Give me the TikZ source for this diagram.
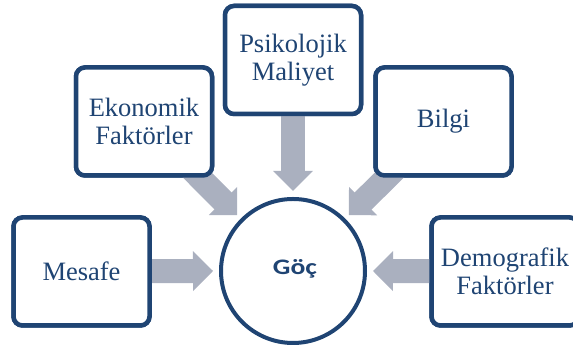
\documentclass[tikz,border=0pt]{standalone}
\usepackage{fontspec}
\usepackage{graphicx}
\setmainfont{Liberation Serif}
\newfontfamily\gocfont{Carlito}
\usetikzlibrary{calc}
\definecolor{dblue}{RGB}{31,68,115}
\definecolor{agray}{RGB}{170,176,191}
\newcommand\blockarrow[2]{%
  \path ($(#2)!19pt!(#1.center)$) coordinate (tmpbase)
        ($(#2)!20pt!(#1.center)$) coordinate (tmphead);
  \draw[arrowshaft] (#1.center) -- (tmpbase);
  \fill[agray] (#2) -- ($(tmphead)!20pt!90:(#2)$) -- ($(tmphead)!20pt!-90:(#2)$) -- cycle;}
\newcommand\boxtext{\fontsize{26.5}{28.5}\selectfont}
\begin{document}
\begin{tikzpicture}[x=1pt,y=1pt,
  box/.style={draw=dblue, fill=white, line width=4.5pt, rounded corners=9pt,
    minimum width=136pt, minimum height=108pt, inner sep=0pt, align=center,
    text=dblue, font=\boxtext},
  hub/.style={circle, draw=dblue, fill=white, line width=4pt, minimum size=144pt,
    inner sep=0pt, text=dblue},
  arrowshaft/.style={draw=agray, line width=24pt}]
\useasboundingbox (0,0) rectangle (573,352);
\node[hub] (goc) at (293,81) {};
\node[box] (mes) at (81.5,80.5) {};
\node[box] (eko) at (144,230.5) {};
\node[box] (psi) at (293,292) {};
\node[box] (bil) at (443.5,230.5) {};
\node[box, minimum width=147pt] (dem) at (505,80.5) {};
\coordinate (tmes) at ($(goc.center)+(180:80)$);
\coordinate (teko) at ($(goc.center)+(135:79)$);
\coordinate (tpsi) at ($(goc.center)+(90:80)$);
\coordinate (tbil) at ($(goc.center)+(45:79)$);
\coordinate (tdem) at ($(goc.center)+(0:80)$);
\blockarrow{mes}{tmes}
\blockarrow{eko}{teko}
\blockarrow{psi}{tpsi}
\blockarrow{bil}{tbil}
\blockarrow{dem}{tdem}
\node[box] at (mes) {Mesafe};
\node[box] at (eko) {Ekonomik\\Faktörler};
\node[box] at (psi) {Psikolojik\\Maliyet};
\node[box] at (bil) {Bilgi};
\node[box, minimum width=147pt] at (dem) {Demografik\\Faktörler};
\node[text=dblue, inner sep=0pt, anchor=base] at ([xshift=2pt,yshift=-4pt]goc.center) {\resizebox{44pt}{15pt}{\gocfont\bfseries Göç}};
\end{tikzpicture}
\end{document}
